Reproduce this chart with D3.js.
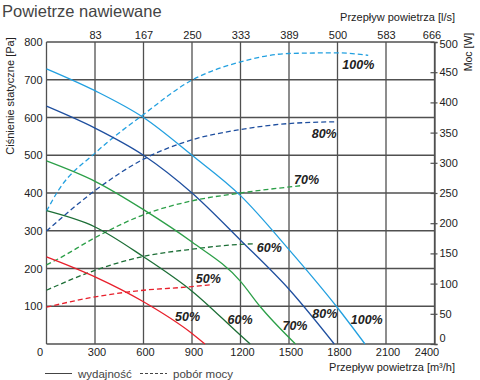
<!DOCTYPE html>
<html><head><meta charset="utf-8">
<script src="https://cdn.jsdelivr.net/npm/d3@7"></script>
<style>
html,body{margin:0;padding:0;background:#fff;}
svg text{font-family:"Liberation Sans",Arial,sans-serif;}
</style></head>
<body><svg id="c" width="480" height="380"></svg>
<script>
// ---- data ----
const flowTicks = [0, 300, 600, 900, 1200, 1500, 1800, 2100, 2400];
const flowLsLabels = ["", "83", "167", "250", "333", "389", "500", "583", "666"];
const pressureTicks = [100, 200, 300, 400, 500, 600, 700, 800];
const powerTicks = [0, 50, 100, 150, 200, 250, 300, 350, 400, 450, 500];
const speeds = ["50%", "60%", "70%", "80%", "100%"];
const colors = ["#e8202c", "#1c6e36", "#2c9f48", "#1f4f9f", "#22a0e0"];

const pressure50 = [[0,231],[300,178],[600,112],[900,28],[980,0]];
const pressure60 = [[0,353],[300,310],[600,231],[900,140],[1200,23],[1260,0]];
const pressure70 = [[0,485],[300,431],[600,356],[900,270],[1200,166],[1320,100],[1540,0]];
const pressure80 = [[0,630],[300,572],[600,500],[900,400],[1200,275],[1500,145],[1780,0]];
const pressure100 = [[0,729],[300,671],[600,600],[900,500],[1200,393],[1500,250],[1800,96],[1970,0]];

const power50 = [[0,61],[300,78],[600,89],[900,95],[1010,98]];
const power60 = [[0,89],[300,122],[600,145],[900,157],[1200,165],[1290,166]];
const power70 = [[0,131],[80,142],[300,176],[600,214],[900,237],[1200,250],[1570,262]];
const power80 = [[0,187],[300,254],[600,306],[900,338],[1200,355],[1500,365],[1800,368]];
const power100 = [[0,220],[75,255],[300,316],[600,380],[900,437],[1200,467],[1500,481],[1800,482],[1990,478]];

const pressureSeries = [pressure50, pressure60, pressure70, pressure80, pressure100];
const powerSeries = [power50, power60, power70, power80, power100];

// label anchors in data units (flow, pressure) and (flow, power)
const pressureLabelAt = [[873,72],[1197,64],[1537,50],[1722,81],[1981,64]];
const powerLabelAt = [[1001,109],[1378,159],[1609,273],[1718,349],[1929,462]];

// ---- chart ----
const svg = d3.select("#c");
const L = 46.5, R = 434.5, T = 42, B = 344;
const x = d3.scaleLinear().domain([0, 2400]).range([L, R]);
const y = d3.scaleLinear().domain([0, 800]).range([B, T]);
const yW = d3.scaleLinear().domain([0, 500]).range([B, T]);
const grid = "#505050";
const txt = "#222";
const FF = "Liberation Sans, Arial, sans-serif";

// grid
const g = svg.append("g");
g.selectAll("line.v").data(flowTicks).join("line")
  .attr("x1", d => x(d)).attr("x2", d => x(d)).attr("y1", T).attr("y2", B)
  .attr("stroke", grid).attr("stroke-width", 1.3);
g.selectAll("line.h").data([0].concat(pressureTicks)).join("line")
  .attr("x1", L).attr("x2", R).attr("y1", d => y(d)).attr("y2", d => y(d))
  .attr("stroke", grid).attr("stroke-width", 1.3);

// right axis with ticks
const rAxis = svg.append("g").attr("transform", `translate(${R},0)`)
  .call(d3.axisRight(yW).tickValues(powerTicks).tickSize(3).tickPadding(2));
rAxis.select(".domain").attr("stroke", grid).attr("stroke-width", 1.3);
rAxis.selectAll(".tick line").attr("stroke", grid).attr("x1", -4).attr("stroke-width", 1.2);
rAxis.selectAll(".tick text").attr("font-size", 11).attr("fill", txt).attr("font-family", FF)
  .attr("dy", d => d === 0 ? "-0.2em" : (d === 500 ? "0.5em" : "0.32em"));

// left axis labels
const lAxis = svg.append("g").attr("transform", `translate(${L},0)`)
  .call(d3.axisLeft(y).tickValues(pressureTicks).tickSize(0).tickPadding(4));
lAxis.select(".domain").remove();
lAxis.selectAll(".tick text").attr("font-size", 11).attr("fill", txt).attr("font-family", FF);

// bottom axis labels
const bAxis = svg.append("g").attr("transform", `translate(0,${B})`)
  .call(d3.axisBottom(x).tickValues(flowTicks).tickFormat(d3.format("d")).tickSize(0).tickPadding(4));
bAxis.select(".domain").remove();
bAxis.selectAll(".tick text").attr("font-size", 11).attr("fill", txt).attr("font-family", FF)
  .attr("dx", (d, i) => i === 0 ? -7 : (i === flowTicks.length - 1 ? -8 : 1.5));

// top axis labels (l/s)
const tAxis = svg.append("g").attr("transform", `translate(0,${T})`)
  .call(d3.axisTop(x).tickValues(flowTicks).tickFormat((d, i) => flowLsLabels[i]).tickSize(0).tickPadding(3));
tAxis.select(".domain").remove();
tAxis.selectAll(".tick text").attr("font-size", 11).attr("fill", txt).attr("font-family", FF)
  .attr("dx", (d, i) => i === flowTicks.length - 1 ? -3 : 0);

// curves
const lineP = d3.line().x(d => x(d[0])).y(d => y(d[1])).curve(d3.curveMonotoneX);
const lineW = d3.line().x(d => x(d[0])).y(d => yW(d[1])).curve(d3.curveMonotoneX);
svg.append("g").selectAll("path").data(powerSeries).join("path")
  .attr("d", lineW).attr("fill", "none").attr("stroke", (d, i) => colors[i])
  .attr("stroke-width", 1.3).attr("stroke-dasharray", "5,3");
svg.append("g").selectAll("path").data(pressureSeries).join("path")
  .attr("d", lineP).attr("fill", "none").attr("stroke", (d, i) => colors[i])
  .attr("stroke-width", 1.3);

// curve labels
const lab = svg.append("g").attr("font-size", 12.5).attr("font-weight", "bold")
  .attr("font-style", "italic").attr("fill", txt).attr("text-anchor", "middle");
lab.selectAll("text.p").data(pressureLabelAt).join("text")
  .attr("x", d => x(d[0])).attr("y", d => y(d[1])).attr("dy", "0.36em")
  .text((d, i) => speeds[i]);
lab.selectAll("text.w").data(powerLabelAt).join("text")
  .attr("class", "w")
  .attr("x", d => x(d[0])).attr("y", d => yW(d[1])).attr("dy", "0.36em")
  .text((d, i) => speeds[i]);

// titles
svg.append("text").attr("x", 2).attr("y", 17).attr("font-size", 16.5)
  .attr("fill", "#444").text("Powietrze nawiewane");
svg.append("text").attr("x", 455).attr("y", 21).attr("text-anchor", "end")
  .attr("font-size", 11).attr("fill", txt).text("Przepływ powietrza  [l/s]");
svg.append("text").attr("x", 455).attr("y", 371).attr("text-anchor", "end")
  .attr("font-size", 11).attr("fill", txt).text("Przepływ powietrza  [m³/h]");
svg.append("text").attr("transform", "translate(14,96) rotate(-90)")
  .attr("text-anchor", "middle").attr("font-size", 11).attr("fill", txt)
  .text("Ciśnienie statyczne [Pa]");
svg.append("text").attr("transform", "translate(472,52) rotate(-90)")
  .attr("text-anchor", "middle").attr("font-size", 10.5).attr("fill", txt)
  .text("Moc [W]");

// legend
const leg = svg.append("g");
leg.append("line").attr("x1", 45).attr("x2", 72).attr("y1", 373.5).attr("y2", 373.5)
  .attr("stroke", "#444").attr("stroke-width", 1);
leg.append("text").attr("x", 78).attr("y", 378).attr("font-size", 11.5).attr("fill", "#444").text("wydajność");
leg.append("line").attr("x1", 140).attr("x2", 167).attr("y1", 373.5).attr("y2", 373.5)
  .attr("stroke", "#444").attr("stroke-width", 1).attr("stroke-dasharray", "3,2");
leg.append("text").attr("x", 173).attr("y", 378).attr("font-size", 11.5).attr("fill", "#444").text("pobór mocy");
</script></body></html>
